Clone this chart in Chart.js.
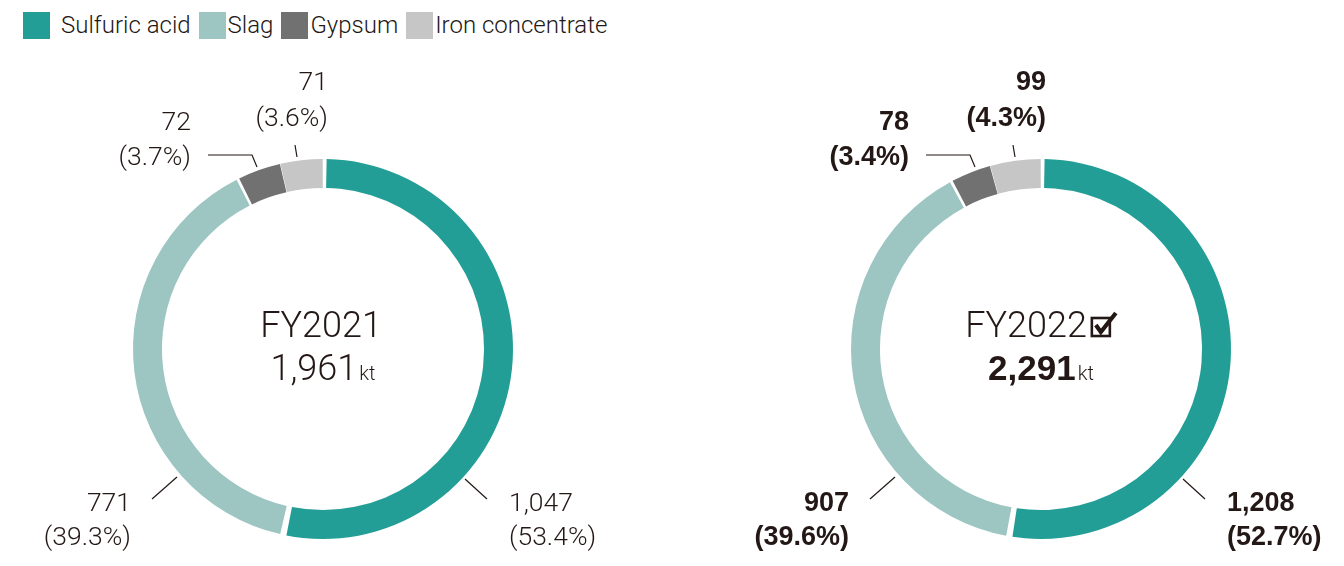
<!DOCTYPE html>
<html>
<head>
<meta charset="utf-8">
<script src="https://cdn.jsdelivr.net/npm/chart.js@4.4.1/dist/chart.umd.min.js"></script>
<style>
  html, body { margin: 0; padding: 0; background: #fff; }
  body { width: 1344px; height: 566px; position: relative; overflow: hidden; font-family: Roboto, "Liberation Sans", sans-serif; color: #231815; }
  #legend { position: absolute; left: 23px; top: 12px; display: flex; align-items: center; height: 27px; }
  .lg-box { width: 27px; height: 27px; flex: none; }
  .lg-text { font-size: 24px; font-weight: 300; line-height: 27px; margin-right: 8px; white-space: nowrap; }
  canvas { position: absolute; top: 0; }
</style>
</head>
<body>
<div id="legend"></div>
<canvas id="c1" width="672" height="566" style="left:0px"></canvas>
<canvas id="c2" width="672" height="566" style="left:672px"></canvas>
<script>
// ---- data ----
const categories = ['Sulfuric acid', 'Slag', 'Gypsum', 'Iron concentrate'];
const years = ['FY2021', 'FY2022'];
const values2021 = [1047, 771, 72, 71];
const values2022 = [1208, 907, 78, 99];
const percent2021 = ['53.4', '39.3', '3.7', '3.6'];
const percent2022 = ['52.7', '39.6', '3.4', '4.3'];
const totals = ['1,961', '2,291'];
const unit = 'kt';

// ---- styles ----
const colors = ['#239e96', '#9dc6c3', '#717171', '#c6c6c6'];
const textColor = '#231815';
const lightFont = 'Roboto, "Liberation Sans", sans-serif';
const boldFont = '"Liberation Sans", Arial, sans-serif';

// legend
const legend = document.getElementById('legend');
const textGaps = [11, 2, 2, 2];
categories.forEach((c, i) => {
  const b = document.createElement('div');
  b.className = 'lg-box';
  b.style.background = colors[i];
  b.style.marginRight = textGaps[i] + 'px';
  const t = document.createElement('div');
  t.className = 'lg-text';
  t.textContent = c;
  legend.appendChild(b);
  legend.appendChild(t);
});

// label layout: offsets relative to doughnut centre
const labelLayout = [
  { line: [[142, 130], [164, 150]], x: 186, align: 'left', base: [162, 196] },
  { line: [[-146, 128], [-171, 150]], x: -192, align: 'right', base: [162, 196] },
  { line: [[-115, -194], [-71, -194], [-66, -182]], x: -132, align: 'right', base: [-219, -184] },
  { line: [[-28, -204], [-26, -192]], x: 5, align: 'right', base: [-259, -223] }
];

function fmt(n) { return n.toLocaleString('en-US'); }

function labelsPlugin(idx, bold, values, percents) {
  return {
    id: 'labels' + idx,
    afterDraw(chart) {
      const ctx = chart.ctx;
      const arc = chart.getDatasetMeta(0).data[0];
      const cx = arc.x, cy = arc.y;
      ctx.save();
      ctx.fillStyle = textColor;
      ctx.strokeStyle = textColor;
      ctx.textBaseline = 'alphabetic';
      const labelFont = bold ? ('700 27px ' + boldFont) : ('300 26.5px ' + lightFont);
      labelLayout.forEach((L, i) => {
        ctx.lineWidth = 1.2;
        ctx.beginPath();
        L.line.forEach((p, k) => {
          if (k === 0) ctx.moveTo(cx + p[0], cy + p[1]);
          else ctx.lineTo(cx + p[0], cy + p[1]);
        });
        ctx.stroke();
        ctx.font = labelFont;
        ctx.textAlign = L.align;
        ctx.fillText(fmt(values[i]), cx + L.x, cy + L.base[0]);
        ctx.fillText('(' + percents[i] + '%)', cx + L.x, cy + L.base[1]);
      });
      // centre text
      ctx.textAlign = 'left';
      ctx.font = '300 36px ' + lightFont;
      const yw = ctx.measureText(years[idx]).width;
      const iconW = bold ? 30 : 0;
      const x0 = cx - (yw + iconW) / 2 - (bold ? 0 : 2);
      ctx.fillText(years[idx], x0, cy - 12);
      if (bold) {
        const bx = x0 + yw + 4, by = cy - 31;
        ctx.lineWidth = 2.6;
        ctx.lineCap = 'butt';
        ctx.strokeRect(bx + 1, by, 18, 18);
        ctx.lineWidth = 4.2;
        ctx.lineJoin = 'miter';
        ctx.beginPath();
        ctx.moveTo(bx + 5, by + 7);
        ctx.lineTo(bx + 10, by + 14);
        ctx.lineTo(bx + 25, by - 5);
        ctx.stroke();
      }
      const totalFont = bold ? ('700 35px ' + boldFont) : ('300 36px ' + lightFont);
      ctx.font = totalFont;
      const tw = ctx.measureText(totals[idx]).width;
      ctx.font = '300 20px ' + lightFont;
      const kw = ctx.measureText(unit).width;
      const tx = cx - (tw + 2 + kw) / 2;
      ctx.font = totalFont;
      ctx.fillText(totals[idx], tx, cy + 31);
      ctx.font = '300 20px ' + lightFont;
      ctx.fillText(unit, tx + tw + 2, cy + 31);
      ctx.restore();
    }
  };
}

function makeChart(id, idx, values, percents, pad, bold) {
  return new Chart(document.getElementById(id), {
    type: 'doughnut',
    data: {
      labels: categories,
      datasets: [{
        data: values,
        backgroundColor: colors,
        borderWidth: 0,
        hoverOffset: 0,
        spacing: 4
      }]
    },
    options: {
      responsive: false,
      animation: false,
      events: [],
      devicePixelRatio: 1,
      cutout: '84.6%',
      layout: { padding: pad },
      plugins: { legend: { display: false }, tooltip: { enabled: false } }
    },
    plugins: [labelsPlugin(idx, bold, values, percents)]
  });
}

makeChart('c1', 0, values2021, percent2021, { left: 133, right: 159, top: 159, bottom: 27 }, false);
makeChart('c2', 1, values2022, percent2022, { left: 179, right: 113, top: 159, bottom: 27 }, true);
</script>
</body>
</html>
